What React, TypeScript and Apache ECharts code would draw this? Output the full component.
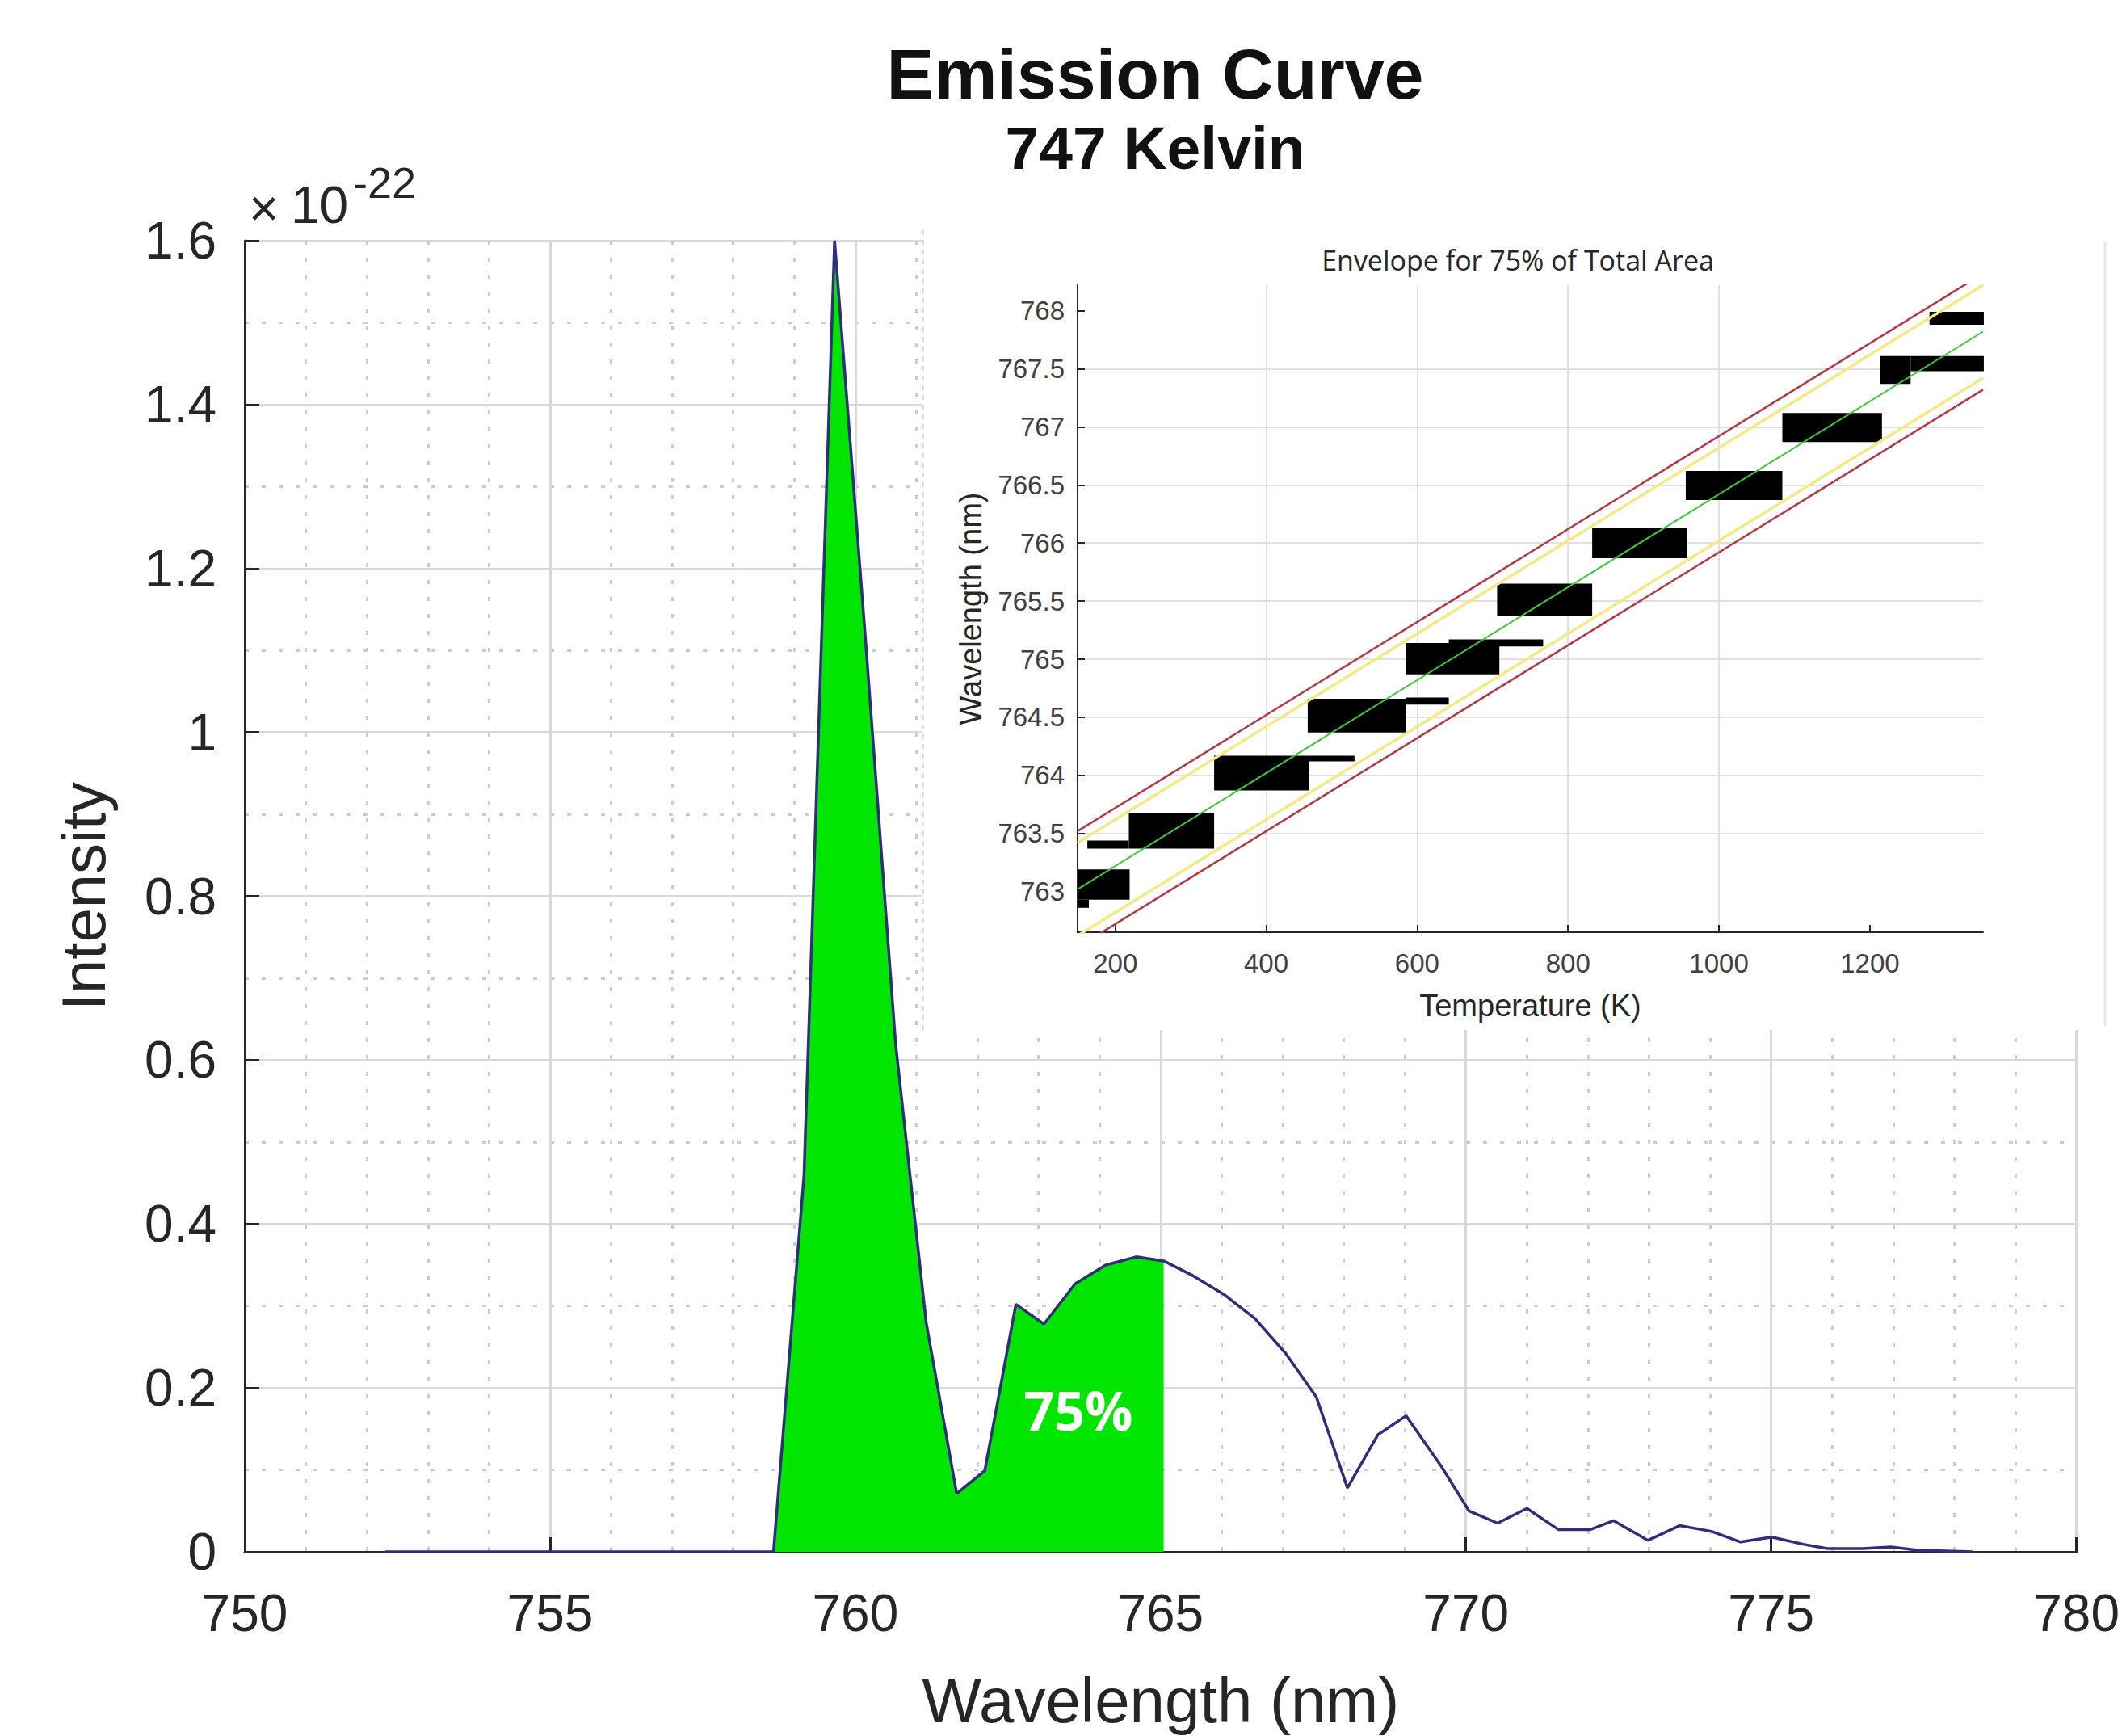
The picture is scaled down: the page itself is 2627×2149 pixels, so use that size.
import React, { useEffect, useRef } from 'react';
import * as echarts from 'echarts';

// ---- Main emission curve (intensity in units of 1e-22) ----
const wavelength = [
  752.3, 758.66, 759.16, 759.66, 760.16, 760.66, 761.16, 761.66, 762.12, 762.63,
  763.09, 763.6, 764.1, 764.6, 765.05, 765.53, 766.04, 766.54, 767.05, 767.55,
  768.06, 768.56, 769.02, 769.6, 770.05, 770.52, 771.0, 771.52, 772.03, 772.42,
  772.98, 773.5, 774.02, 774.5, 775.01, 775.54, 775.92, 776.5, 776.96, 777.4, 778.3,
];
const intensity = [
  0, 0, 0.46, 1.6, 1.12, 0.62, 0.28, 0.071, 0.099, 0.302,
  0.278, 0.327, 0.35, 0.36, 0.355, 0.337, 0.314, 0.285, 0.242, 0.189,
  0.078, 0.143, 0.166, 0.104, 0.05, 0.035, 0.053, 0.027, 0.027, 0.038,
  0.014, 0.032, 0.025, 0.012, 0.018, 0.009, 0.004, 0.004, 0.006, 0.002, 0,
];
const fillStart = 758.66;
const fillEnd = 765.05;
const fillLabel = '75%';

// ---- Inset: envelope for 75% of total area ----
const insetTempTicks = [200, 400, 600, 800, 1000, 1200];
const insetWaveTicks = [763, 763.5, 764, 764.5, 765, 765.5, 766, 766.5, 767, 767.5, 768];

const blockT0 = [150, 150, 163, 218, 331, 457, 455, 585, 585, 642, 706, 832, 956, 1084, 1214, 1254, 1279];
const blockT1 = [219, 165, 218, 331, 457, 517, 585, 642, 709, 767, 832, 958, 1084, 1216, 1254, 1351, 1351];
const blockLow = [762.93, 762.86, 763.37, 763.37, 763.87, 764.12, 764.37, 764.61, 764.87, 765.11, 765.37, 765.87, 766.37, 766.87, 767.37, 767.48, 767.88];
const blockHigh = [763.19, 762.93, 763.44, 763.68, 764.17, 764.17, 764.66, 764.67, 765.14, 765.17, 765.65, 766.13, 766.62, 767.12, 767.61, 767.61, 767.99];

const lineTemps = [150, 1350];
const greenLine = [763.02, 767.82];
const yellowUpper = [763.42, 768.22];
const yellowLower = [762.62, 767.42];
const redUpper = [763.52, 768.32];
const redLower = [762.52, 767.32];

const AX = '#262626';
const SANS = '"Liberation Sans", Arial, sans-serif';
const TITLE_FONT = '"Open Sans", "Noto Sans", sans-serif';

function pairs(xs: number[], ys: number[]) {
  return xs.map((x, i) => [x, ys[i]]);
}

export default function App() {
  const ref = useRef<HTMLDivElement>(null);

  useEffect(() => {
    if (!ref.current) return;
    const chart = echarts.init(ref.current, null, { renderer: 'svg' });

    const curve = pairs(wavelength, intensity);
    const fill = curve.filter((p) => p[0] >= fillStart && p[0] <= fillEnd);
    const blocks = blockT0.map((t, i) => [t, blockT1[i], blockLow[i], blockHigh[i]]);

    const insetLine = (vals: number[], color: string, width: number, z: number) => ({
      type: 'line',
      xAxisIndex: 1,
      yAxisIndex: 1,
      data: pairs(lineTemps, vals),
      symbol: 'none',
      clip: true,
      z,
      lineStyle: { color, width },
      silent: true,
    });

    const text = (x: number, y: number, s: string, size: number, extra: any = {}) => ({
      type: 'text',
      z: 10,
      x,
      y,
      silent: true,
      style: {
        text: s,
        fill: AX,
        fontSize: size,
        fontFamily: SANS,
        textAlign: 'left',
        textVerticalAlign: 'middle',
        ...extra,
      },
    });

    const option: any = {
      animation: false,
      backgroundColor: '#ffffff',
      grid: [
        { left: 303, top: 298, width: 2274, height: 1624 },
        { left: 1334, top: 353, width: 1121, height: 801 },
      ],
      xAxis: [
        {
          type: 'value',
          gridIndex: 0,
          min: 750,
          max: 780,
          interval: 5,
          axisLine: { show: true, onZero: false, lineStyle: { color: AX, width: 3 } },
          axisTick: { show: true, inside: true, length: 18, lineStyle: { color: AX, width: 3 } },
          axisLabel: { fontSize: 64, color: AX, fontFamily: SANS, margin: 44 },
          splitLine: { show: true, lineStyle: { color: '#d9d9d9', width: 3 } },
          minorTick: { show: false, splitNumber: 5 },
          minorSplitLine: { show: true, lineStyle: { color: '#cdcdcd', width: 3, type: [5, 16] } },
          name: 'Wavelength (nm)',
          nameLocation: 'middle',
          nameGap: 145,
          nameTextStyle: { fontSize: 78, color: AX, fontFamily: SANS },
        },
        {
          type: 'value',
          gridIndex: 1,
          min: 150,
          max: 1350,
          z: 5,
          axisLine: { show: true, onZero: false, lineStyle: { color: AX, width: 2 } },
          axisTick: { show: true, inside: true, length: 9, customValues: insetTempTicks, lineStyle: { color: AX, width: 2 } },
          axisLabel: {
            customValues: insetTempTicks,
            fontSize: 33,
            color: '#404040',
            fontFamily: SANS,
            margin: 22,
            formatter: (v: number) => String(v),
          },
          splitLine: { show: true, showMinLine: false, showMaxLine: false, lineStyle: { color: '#e0e0e0', width: 2 } },
          name: 'Temperature (K)',
          nameLocation: 'middle',
          nameGap: 72,
          nameTextStyle: { fontSize: 38, color: AX, fontFamily: SANS },
        },
      ],
      yAxis: [
        {
          type: 'value',
          gridIndex: 0,
          min: 0,
          max: 1.6,
          interval: 0.2,
          axisLine: { show: true, onZero: false, lineStyle: { color: AX, width: 3 } },
          axisTick: { show: true, inside: true, length: 18, lineStyle: { color: AX, width: 3 } },
          axisLabel: {
            fontSize: 64,
            color: AX,
            fontFamily: SANS,
            margin: 35,
            formatter: (v: number) => String(+v.toFixed(1)),
          },
          splitLine: { show: true, lineStyle: { color: '#d9d9d9', width: 3 } },
          minorTick: { show: false, splitNumber: 2 },
          minorSplitLine: { show: true, lineStyle: { color: '#cdcdcd', width: 3, type: [5, 16] } },
          name: 'Intensity',
          nameLocation: 'middle',
          nameRotate: 90,
          nameGap: 162,
          nameTextStyle: { fontSize: 76, color: AX, fontFamily: SANS },
        },
        {
          type: 'value',
          gridIndex: 1,
          min: 762.65,
          max: 768.22,
          splitNumber: 10,
          z: 5,
          axisLine: { show: true, onZero: false, lineStyle: { color: AX, width: 2 } },
          axisTick: { show: true, inside: true, length: 9, customValues: insetWaveTicks, lineStyle: { color: AX, width: 2 } },
          axisLabel: {
            customValues: insetWaveTicks,
            fontSize: 33,
            color: '#404040',
            fontFamily: SANS,
            margin: 16,
            formatter: (v: number) => String(v),
          },
          splitLine: { show: true, showMinLine: false, showMaxLine: false, lineStyle: { color: '#e0e0e0', width: 2 } },
          name: 'Wavelength (nm)',
          nameLocation: 'middle',
          nameRotate: 90,
          nameGap: 113,
          nameTextStyle: { fontSize: 38, color: AX, fontFamily: SANS },
        },
      ],
      series: [
        {
          type: 'line',
          xAxisIndex: 0,
          yAxisIndex: 0,
          data: fill,
          symbol: 'none',
          z: 2,
          lineStyle: { width: 0 },
          areaStyle: { color: '#00e600', opacity: 1 },
          silent: true,
        },
        {
          type: 'line',
          xAxisIndex: 0,
          yAxisIndex: 0,
          data: curve,
          symbol: 'none',
          z: 3,
          lineStyle: { color: '#2e2e7c', width: 3.5 },
          silent: true,
        },
        {
          type: 'custom',
          xAxisIndex: 1,
          yAxisIndex: 1,
          z: 6,
          data: blocks,
          encode: { x: [0, 1], y: [2, 3] },
          renderItem: (params: any, api: any) => {
            const p0 = api.coord([api.value(0), api.value(3)]);
            const p1 = api.coord([api.value(1), api.value(2)]);
            return {
              type: 'rect',
              shape: { x: p0[0], y: p0[1], width: p1[0] - p0[0], height: p1[1] - p0[1] },
              style: { fill: '#000000' },
            };
          },
          silent: true,
        },
        insetLine(redUpper, '#b03a44', 2.5, 7),
        insetLine(redLower, '#b03a44', 2.5, 7),
        insetLine(yellowUpper, '#f4ea84', 3.5, 7),
        insetLine(yellowLower, '#f4ea84', 3.5, 7),
        insetLine(greenLine, '#3cc83c', 2, 8),
      ],
      graphic: [
        {
          type: 'rect',
          z: 3,
          silent: true,
          shape: { x: 1142, y: 285, width: 1468, height: 990 },
          style: { fill: '#ffffff' },
        },
        {
          type: 'line',
          z: 4,
          silent: true,
          shape: { x1: 1143, y1: 285, x2: 1143, y2: 1275 },
          style: { stroke: '#dcdcdc', lineWidth: 2, lineDash: [6, 6] },
        },
        {
          type: 'line',
          z: 4,
          silent: true,
          shape: { x1: 2606, y1: 300, x2: 2606, y2: 1270 },
          style: { stroke: '#e6e6e6', lineWidth: 3 },
        },
        text(1430, 91, 'Emission Curve', 88, {
          fill: '#111111',
          fontWeight: 'bold',
          textAlign: 'center',
          lineHeight: 80,
        }),
        text(1430, 183, '747 Kelvin', 75, {
          fill: '#111111',
          fontWeight: 'bold',
          textAlign: 'center',
          lineHeight: 66,
        }),
        text(308, 258, '×', 64, { lineHeight: 50 }),
        text(360, 254, '10', 64, { lineHeight: 56 }),
        text(437, 226, '-22', 54, { lineHeight: 46 }),
        text(1335, 1745, fillLabel, 66, {
          fill: '#ffffff',
          fontWeight: 'bold',
          fontFamily: TITLE_FONT,
          textAlign: 'center',
        }),
        text(1879, 322, 'Envelope for 75% of Total Area', 34, {
          fontFamily: TITLE_FONT,
          textAlign: 'center',
        }),
      ],
    };

    chart.setOption(option);
    return () => chart.dispose();
  }, []);

  return (
    <div
      ref={ref}
      style={{ position: 'absolute', left: 0, top: 0, width: 2627, height: 2149 }}
    />
  );
}
